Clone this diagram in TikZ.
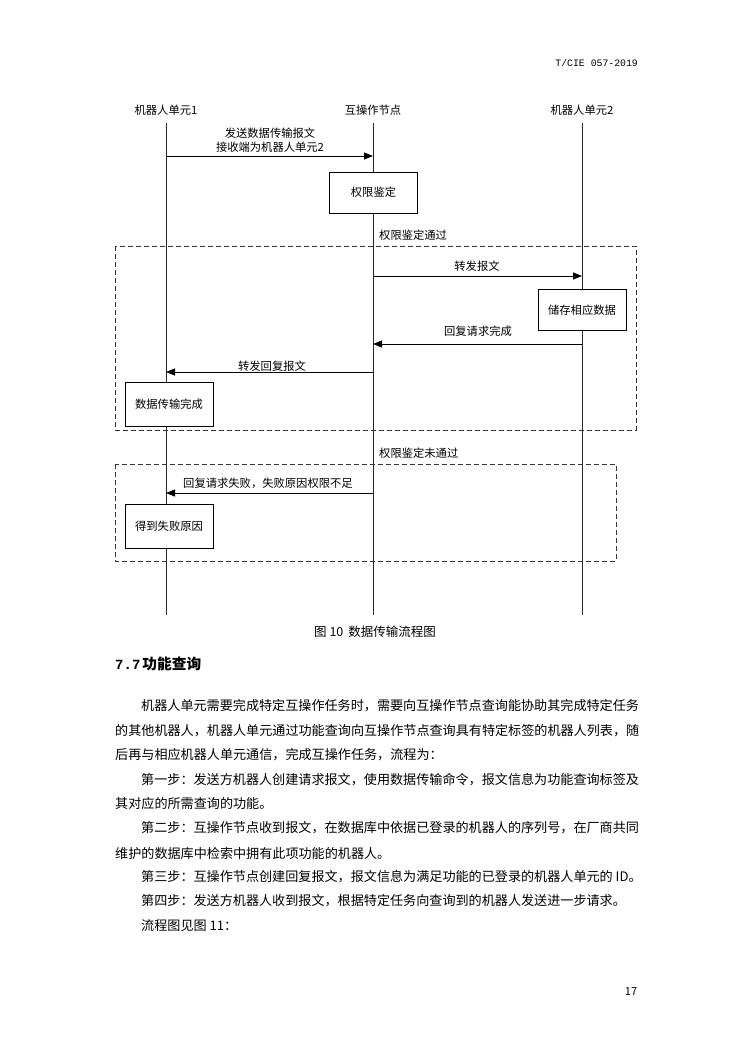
\documentclass[tikz,border=0pt]{standalone}
\usepackage{fontspec}
\setmainfont{Noto Sans CJK SC}
\newfontfamily\monofont{Liberation Mono}
\usetikzlibrary{arrows.meta}
\begin{document}
\begin{tikzpicture}[x=1pt,y=-1pt,
  lbl/.style={inner sep=0pt, font=\fontsize{11.3}{13}\selectfont},
  box/.style={draw, fill=white, line width=0.8pt, minimum width=88pt, minimum height=42pt, inner sep=0pt, font=\fontsize{11.3}{13}\selectfont},
  msg/.style={line width=0.8pt, -{Triangle[length=9pt,width=7pt]}},
  life/.style={line width=0.8pt, draw=black!85},
  grp/.style={draw, dash pattern=on 5pt off 3pt, line width=0.8pt, draw=black!80},
  body/.style={anchor=west, inner sep=0pt, font=\fontsize{13.1}{15}\selectfont}]
\fill[white] (0,0) rectangle (750,1060);
\useasboundingbox (0,0) rectangle (750,1060);

% header
\node[anchor=east, inner sep=0pt, font=\monofont\fontsize{9.8}{11}\selectfont] (hdr) at (638,63) {T/CIE 057-2019};

% lifeline heads
\node[lbl] (u1) at (166,110) {机器人单元1};
\node[lbl] (hub) at (373,110) {互操作节点};
\node[lbl] (u2) at (582,110) {机器人单元2};
\coordinate (u1t) at (166,123); \coordinate (u1b) at (166,615);
\coordinate (hubt) at (373,123); \coordinate (hubb) at (373,615);
\coordinate (u2t) at (582,123); \coordinate (u2b) at (582,615);
\draw[life] (u1t) -- (u1b);
\draw[life] (hubt) -- (hubb);
\draw[life] (u2t) -- (u2b);

% groups
\draw[grp] (115,246) rectangle (636,430);
\draw[grp] (115,464) rectangle (616,561);

% message 1
\coordinate (m1s) at (166,156); \coordinate (m1e) at (373,156);
\draw[msg] (m1s) -- (m1e);
\node[lbl] (m1a) at (270,133) {发送数据传输报文};
\node[lbl] (m1b) at (270,147) {接收端为机器人单元2};

\node[box, minimum height=41pt] (auth) at (373.5,192.5) {权限鉴定};
\node[lbl, anchor=west] (pass) at (379,235) {权限鉴定通过};

% forward
\coordinate (m2s) at (373,276); \coordinate (m2e) at (582,276);
\draw[msg] (m2s) -- (m2e);
\node[lbl] (m2l) at (477,266) {转发报文};

\node[box, minimum height=41pt] (store) at (582,310) {储存相应数据};

\coordinate (m3s) at (582,344); \coordinate (m3e) at (373,344);
\draw[msg] (m3s) -- (m3e);
\node[lbl] (m3l) at (478,331) {回复请求完成};

\coordinate (m4s) at (373,372); \coordinate (m4e) at (166,372);
\draw[msg] (m4s) -- (m4e);
\node[lbl] (m4l) at (272,366) {转发回复报文};

\node[box, minimum height=44pt] (done) at (169,404) {数据传输完成};

\node[lbl, anchor=west] (fail) at (379,453) {权限鉴定未通过};

\coordinate (m5s) at (373,493); \coordinate (m5e) at (166,493);
\draw[msg] (m5s) -- (m5e);
\node[lbl, anchor=west] (m5l) at (183,483) {回复请求失败，失败原因权限不足};

\node[box, minimum height=44pt] (reason) at (169,526) {得到失败原因};

% caption
\node[inner sep=0pt, font=\fontsize{12.5}{14}\selectfont] (cap) at (375,632) {图 10\, 数据传输流程图};

% heading
\node[anchor=west, inner sep=0pt] (h77) at (115,664) {{\monofont\bfseries\fontsize{14}{16}\selectfont 7.7}\hspace{2pt}{\bfseries\fontsize{14.7}{16}\selectfont 功能查询}};

% body
\node[body] (l1) at (141,706) {机器人单元需要完成特定互操作任务时，需要向互操作节点查询能协助其完成特定任务};
\node[body] (l2) at (115,731) {的其他机器人，机器人单元通过功能查询向互操作节点查询具有特定标签的机器人列表，随};
\node[body] (l3) at (115,755) {后再与相应机器人单元通信，完成互操作任务，流程为：};
\node[body] (l4) at (141,780) {第一步：发送方机器人创建请求报文，使用数据传输命令，报文信息为功能查询标签及};
\node[body] (l5) at (115,804) {其对应的所需查询的功能。};
\node[body] (l6) at (141,828) {第二步：互操作节点收到报文，在数据库中依据已登录的机器人的序列号，在厂商共同};
\node[body] (l7) at (115,853) {维护的数据库中检索中拥有此项功能的机器人。};
\node[body] (l8) at (141,877) {第三步：互操作节点创建回复报文，报文信息为满足功能的已登录的机器人单元的 ID。};
\node[body] (l9) at (141,901) {第四步：发送方机器人收到报文，根据特定任务向查询到的机器人发送进一步请求。};
\node[body] (l10) at (141,926) {流程图见图 11：};

% page number
\node[inner sep=0pt, font=\fontsize{11}{13}\selectfont] (pg) at (631,992) {17};
\end{tikzpicture}
\end{document}
